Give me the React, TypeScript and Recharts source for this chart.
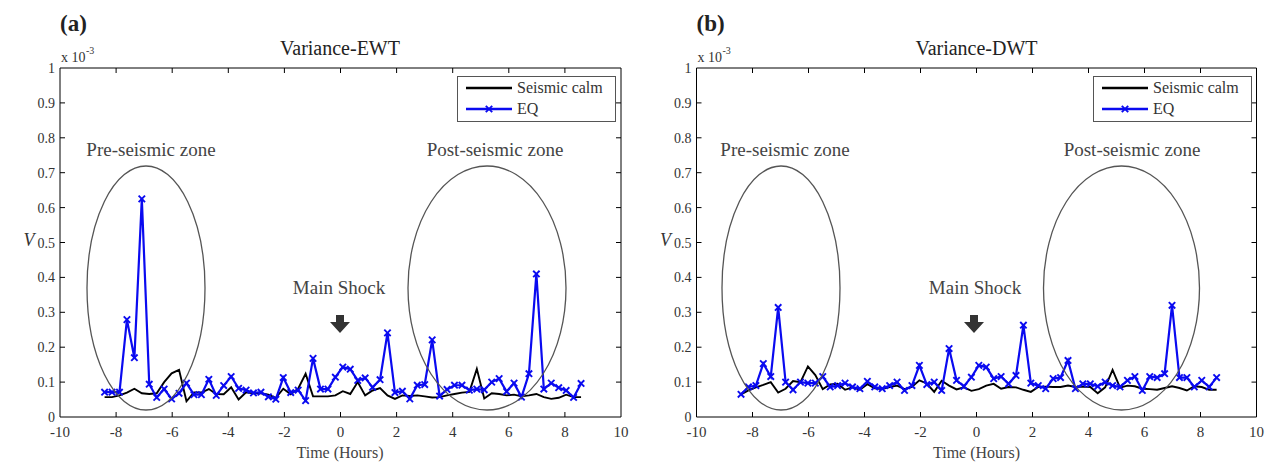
import React from 'react';
import { LineChart, Line, XAxis, YAxis, ReferenceArea, Legend } from 'recharts';

// Time axis (hours)
const hours = [
  -8.41, -8.145, -7.879, -7.614, -7.348, -7.083, -6.818, -6.552, -6.287, -6.021,
  -5.756, -5.491, -5.225, -4.96, -4.694, -4.429, -4.164, -3.898, -3.633, -3.367,
  -3.102, -2.837, -2.571, -2.306, -2.04, -1.775, -1.51, -1.244, -0.979, -0.713,
  -0.448, -0.183, 0.083, 0.348, 0.614, 0.879, 1.144, 1.41, 1.675, 1.941,
  2.206, 2.471, 2.737, 3.002, 3.268, 3.533, 3.798, 4.064, 4.329, 4.595,
  4.86, 5.125, 5.391, 5.656, 5.922, 6.187, 6.452, 6.718, 6.983, 7.249,
  7.514, 7.779, 8.045, 8.31, 8.576,
];

// Panel (a) Variance-EWT (x 10^-3)
const eqEWT = [
  0.071, 0.071, 0.071, 0.279, 0.17, 0.625, 0.094, 0.056, 0.08, 0.052,
  0.068, 0.097, 0.064, 0.064, 0.108, 0.062, 0.09, 0.116, 0.082, 0.077,
  0.069, 0.071, 0.058, 0.051, 0.113, 0.07, 0.077, 0.047, 0.168, 0.08,
  0.08, 0.114, 0.143, 0.137, 0.105, 0.112, 0.085, 0.107, 0.241, 0.07,
  0.074, 0.052, 0.091, 0.093, 0.221, 0.06, 0.079, 0.091, 0.091, 0.077,
  0.08, 0.078, 0.1, 0.11, 0.073, 0.097, 0.057, 0.124, 0.41, 0.08,
  0.097, 0.084, 0.076, 0.056, 0.096,
];
const calmEWT = [
  0.057, 0.057, 0.062, 0.07, 0.081, 0.068, 0.066, 0.068, 0.1, 0.125,
  0.135, 0.045, 0.07, 0.07, 0.08, 0.066, 0.065, 0.085, 0.05, 0.071,
  0.068, 0.068, 0.064, 0.055, 0.081, 0.065, 0.081, 0.124, 0.059, 0.059,
  0.059, 0.062, 0.074, 0.066, 0.1, 0.062, 0.076, 0.083, 0.062, 0.052,
  0.062, 0.06, 0.062, 0.059, 0.056, 0.057, 0.062, 0.066, 0.07, 0.072,
  0.138, 0.053, 0.068, 0.066, 0.062, 0.064, 0.059, 0.062, 0.066, 0.057,
  0.052, 0.055, 0.064, 0.057, 0.057,
];

// Panel (b) Variance-DWT (x 10^-3)
const eqDWT = [
  0.065, 0.086, 0.09, 0.153, 0.116, 0.314, 0.1, 0.078, 0.1, 0.097,
  0.097, 0.116, 0.086, 0.09, 0.097, 0.086, 0.081, 0.102, 0.086, 0.081,
  0.09, 0.1, 0.076, 0.09, 0.148, 0.093, 0.1, 0.076, 0.196, 0.105,
  0.088, 0.114, 0.148, 0.143, 0.11, 0.116, 0.095, 0.119, 0.263, 0.097,
  0.09, 0.081, 0.11, 0.113, 0.162, 0.081, 0.095, 0.095, 0.088, 0.1,
  0.09, 0.086, 0.105, 0.116, 0.076, 0.116, 0.113, 0.124, 0.32, 0.113,
  0.113, 0.086, 0.105, 0.086, 0.113,
];
const calmDWT = [
  0.065, 0.076, 0.085, 0.092, 0.1, 0.07, 0.081, 0.103, 0.1, 0.145,
  0.12, 0.08, 0.093, 0.095, 0.078, 0.085, 0.078, 0.094, 0.082, 0.08,
  0.086, 0.09, 0.08, 0.086, 0.105, 0.096, 0.072, 0.104, 0.09, 0.079,
  0.085, 0.075, 0.08, 0.09, 0.095, 0.081, 0.086, 0.085, 0.078, 0.072,
  0.086, 0.087, 0.086, 0.086, 0.09, 0.086, 0.087, 0.086, 0.068, 0.085,
  0.135, 0.084, 0.09, 0.088, 0.081, 0.08, 0.078, 0.083, 0.088, 0.083,
  0.076, 0.088, 0.086, 0.078, 0.078,
];

const xTicks = [-10, -8, -6, -4, -2, 0, 2, 4, 6, 8, 10];
const yTicks = [0, 0.1, 0.2, 0.3, 0.4, 0.5, 0.6, 0.7, 0.8, 0.9, 1];
const seriesNames = ['Seismic calm', 'EQ'];

const FONT = '"Liberation Serif", "Times New Roman", serif';
const BLUE = '#0a0af0';
const H = 467;
const TOP = 68;
const XAXIS_H = 50;
const BOTTOM = H - XAXIS_H;

const XDot = (props: any) => {
  const { cx, cy } = props;
  if (cx == null || cy == null) return null;
  const s = 3.2;
  return (
    <g stroke={BLUE} strokeWidth={1.9}>
      <line x1={cx - s} y1={cy - s} x2={cx + s} y2={cy + s} />
      <line x1={cx - s} y1={cy + s} x2={cx + s} y2={cy - s} />
    </g>
  );
};

const LegendBox = () => (
  <svg width={159} height={46} style={{ display: 'block' }}>
    <rect x={0.5} y={0.5} width={158} height={45} fill="#fff" stroke="#555" />
    <line x1={9} x2={55} y1={12} y2={12} stroke="#000" strokeWidth={2.5} />
    <text x={60} y={17} fontSize={16} fontFamily={FONT} fill="#333">{seriesNames[0]}</text>
    <line x1={9} x2={55} y1={33} y2={33} stroke={BLUE} strokeWidth={2.5} />
    <XDot cx={32} cy={33} />
    <text x={60} y={38} fontSize={16} fontFamily={FONT} fill="#333">{seriesNames[1]}</text>
  </svg>
);

type PanelProps = {
  left: number;
  width: number;
  yw: number;
  rm: number;
  eq: number[];
  calm: number[];
};

function Panel({ left, width, yw, rm, eq, calm }: PanelProps) {
  const data = hours.map((t, i) => ({ t, eq: eq[i], calm: calm[i] }));
  const L = yw;
  const R = width - rm;
  const xTick = (p: any) => {
    const x = p.x;
    const v = p.payload.value;
    const inner = v > -10 && v < 10;
    return (
      <g>
        {inner && <line x1={x} x2={x} y1={BOTTOM} y2={BOTTOM - 5} stroke="#000" />}
        {inner && <line x1={x} x2={x} y1={TOP} y2={TOP + 5} stroke="#000" />}
        <text x={x} y={BOTTOM + 20} textAnchor="middle" fontSize={15} fontFamily={FONT} fill="#333">
          {String(v)}
        </text>
      </g>
    );
  };
  const yTick = (p: any) => {
    const y = p.y;
    const v = p.payload.value;
    const inner = v > 0 && v < 1;
    return (
      <g>
        {inner && <line x1={L} x2={L + 5} y1={y} y2={y} stroke="#000" />}
        {inner && <line x1={R} x2={R - 5} y1={y} y2={y} stroke="#000" />}
        <text x={L - 5} y={y + 5} textAnchor="end" fontSize={14} fontFamily={FONT} fill="#333">
          {String(v)}
        </text>
      </g>
    );
  };
  return (
    <div style={{ position: 'absolute', left, top: 0 }}>
      <LineChart width={width} height={H} data={data} margin={{ top: TOP, right: rm, bottom: 0, left: 0 }}>
        <XAxis
          dataKey="t"
          type="number"
          domain={[-10, 10]}
          ticks={xTicks}
          interval={0}
          height={XAXIS_H}
          axisLine={false}
          tickLine={false}
          tick={xTick}
          allowDataOverflow
        />
        <YAxis
          type="number"
          domain={[0, 1]}
          ticks={yTicks}
          interval={0}
          width={yw}
          axisLine={false}
          tickLine={false}
          tick={yTick}
          allowDataOverflow
        />
        <ReferenceArea x1={-10} x2={10} y1={0} y2={1} fill="none" fillOpacity={0} stroke="#000" strokeWidth={1} />
        <Line
          type="linear"
          dataKey="calm"
          name={seriesNames[0]}
          stroke="#000"
          strokeWidth={1.9}
          dot={false}
          isAnimationActive={false}
        />
        <Line
          type="linear"
          dataKey="eq"
          name={seriesNames[1]}
          stroke={BLUE}
          strokeWidth={2.2}
          dot={<XDot />}
          isAnimationActive={false}
        />
        <Legend
          layout="vertical"
          align="center"
          verticalAlign="middle"
          wrapperStyle={{ left: R - 6 - 158, top: 76, width: 159, height: 46 }}
          content={() => <LegendBox />}
        />
      </LineChart>
    </div>
  );
}

const Annotations = ({ dx, tag, title }: { dx: number; tag: string; title: string }) => (
  <g fontFamily={FONT}>
    <text x={60 + dx} y={31} fontSize={23} fontWeight="bold" fill="#222">{tag}</text>
    <text x={61 + dx} y={62} fontSize={14} fill="#333">x 10</text>
    <text x={86 + dx} y={54} fontSize={10} fill="#333">-3</text>
    <text x={340 + dx} y={55} fontSize={20} textAnchor="middle" fill="#222">{title}</text>
    <text x={29 + dx} y={246} fontSize={18} fontStyle="italic" textAnchor="middle" fill="#333">V</text>
    <text x={340 + dx} y={458} fontSize={16} textAnchor="middle" fill="#444">Time (Hours)</text>
  </g>
);

export default function App() {
  return (
    <div style={{ position: 'absolute', left: 0, top: 0, width: 1265, height: H, background: '#fff', overflow: 'hidden' }}>
      <Panel left={0} width={640} yw={60} rm={19} eq={eqEWT} calm={calmEWT} />
      <Panel left={636} width={629} yw={60.5} rm={8.5} eq={eqDWT} calm={calmDWT} />
      <svg width={1265} height={H} style={{ position: 'absolute', left: 0, top: 0, pointerEvents: 'none' }}>
        <Annotations dx={0} tag="(a)" title="Variance-EWT" />
        <Annotations dx={636.5} tag="(b)" title="Variance-DWT" />
        <g fill="none" stroke="#555" strokeWidth={1.3}>
          <ellipse cx={146} cy={288} rx={59} ry={122} />
          <ellipse cx={487} cy={288} rx={79} ry={122} />
          <ellipse cx={781} cy={288} rx={59} ry={122} />
          <ellipse cx={1121.5} cy={288} rx={78} ry={122} />
        </g>
        <g fontFamily={FONT} fontSize={19} fill="#444" textAnchor="middle">
          <text x={151} y={156}>Pre-seismic zone</text>
          <text x={495} y={156}>Post-seismic zone</text>
          <text x={785} y={156}>Pre-seismic zone</text>
          <text x={1132} y={156}>Post-seismic zone</text>
          <text x={339} y={294}>Main Shock</text>
          <text x={975} y={294}>Main Shock</text>
        </g>
        <g fill="#333">
          <path d="M336,315 L344,315 L344,322 L350,322 L340,333 L330,322 L336,322 Z" />
          <path d="M970,315 L978,315 L978,322 L984,322 L974,333 L964,322 L970,322 Z" />
        </g>
      </svg>
    </div>
  );
}
